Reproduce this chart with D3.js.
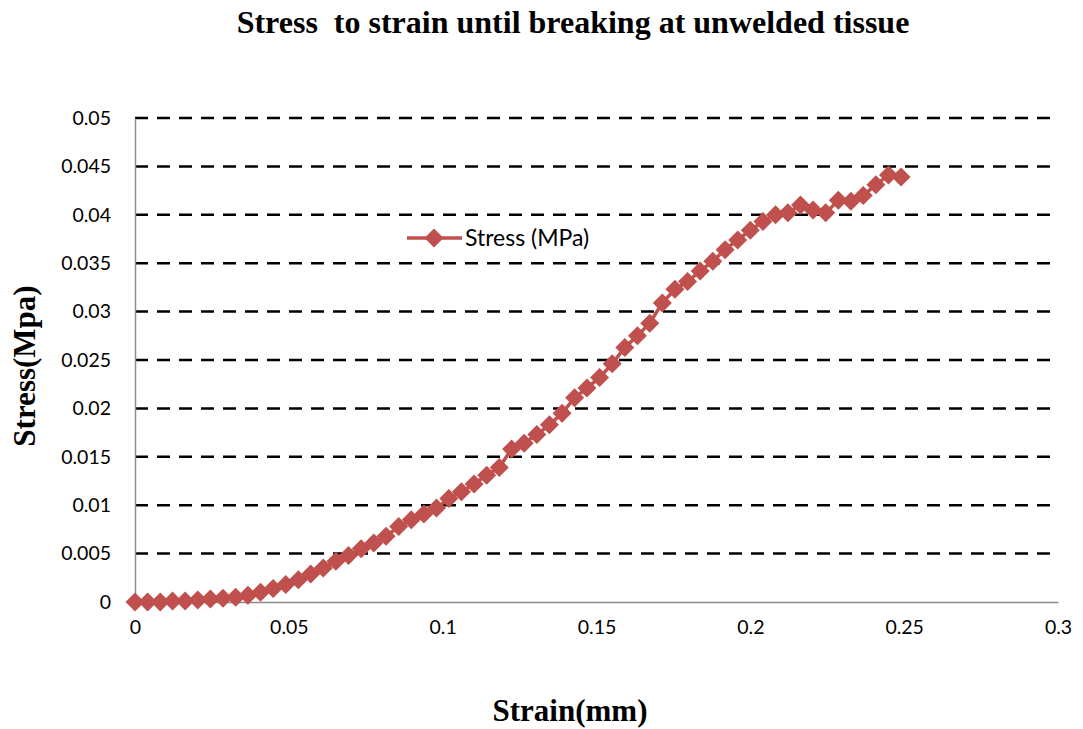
<!DOCTYPE html>
<html>
<head>
<meta charset="utf-8">
<script src="https://cdn.jsdelivr.net/npm/d3@7"></script>
<style>
  body { margin: 0; background: #fff; }
  svg text { fill: #000; }
</style>
</head>
<body>
<svg id="chart" width="1083" height="729"></svg>
<script>
// strain (mm) readings
const strain = [0, 0.0041, 0.0082, 0.0122, 0.0163, 0.0204, 0.0245, 0.0286, 0.0327, 0.0367,
  0.0408, 0.0449, 0.049, 0.0531, 0.0571, 0.0612, 0.0653, 0.0694, 0.0735, 0.0776,
  0.0816, 0.0857, 0.0898, 0.0939, 0.098, 0.102, 0.1061, 0.1102, 0.1143, 0.1184,
  0.1224, 0.1265, 0.1306, 0.1347, 0.1388, 0.1429, 0.1469, 0.151, 0.1551, 0.1592,
  0.1633, 0.1673, 0.1714, 0.1755, 0.1796, 0.1837, 0.1878, 0.1918, 0.1959, 0.2,
  0.2041, 0.2082, 0.2122, 0.2163, 0.2204, 0.2245, 0.2286, 0.2327, 0.2367, 0.2408,
  0.2449, 0.249];
// stress (MPa)
const stress = [0, 0, 0, 0.0001, 0.0001, 0.0002, 0.0003, 0.0004, 0.0005, 0.0007,
  0.001, 0.0014, 0.0018, 0.0023, 0.0029, 0.0035, 0.0042, 0.0048, 0.0055, 0.0061,
  0.0068, 0.0078, 0.0085, 0.0091, 0.0097, 0.0107, 0.0114, 0.0122, 0.0131, 0.0139,
  0.0158, 0.0164, 0.0173, 0.0183, 0.0195, 0.0211, 0.0221, 0.0232, 0.0246, 0.0263,
  0.0275, 0.0288, 0.0309, 0.0323, 0.0331, 0.0342, 0.0352, 0.0364, 0.0374, 0.0384,
  0.0393, 0.04, 0.0402, 0.041, 0.0405, 0.0402, 0.0415, 0.0414, 0.042, 0.0431,
  0.0441, 0.0439];

const xTicks = [0, 0.05, 0.1, 0.15, 0.2, 0.25, 0.3];
const yTicks = [0, 0.005, 0.01, 0.015, 0.02, 0.025, 0.03, 0.035, 0.04, 0.045, 0.05];
const seriesName = "Stress (MPa)";
const color = "#C0504D";

const svg = d3.select("#chart");
const plot = { left: 135, right: 1058, top: 118, bottom: 602 };

const x = d3.scaleLinear().domain([0, 0.3]).range([plot.left, plot.right]);
const y = d3.scaleLinear().domain([0, 0.05]).range([plot.bottom, plot.top]);

// dashed gridlines
svg.append("g")
  .selectAll("line")
  .data(yTicks.filter(d => d > 0))
  .enter()
  .append("line")
  .attr("x1", plot.left)
  .attr("x2", plot.right)
  .attr("y1", d => y(d))
  .attr("y2", d => y(d))
  .attr("stroke", "#000")
  .attr("stroke-width", 2.5)
  .attr("stroke-dasharray", "13,9");

// axes
const yAxis = svg.append("g")
  .attr("transform", `translate(${plot.left},0)`)
  .call(d3.axisLeft(y).tickValues(yTicks).tickSize(0).tickPadding(24).tickFormat(d => String(+d.toFixed(3))));
const xAxis = svg.append("g")
  .attr("transform", `translate(0,${plot.bottom})`)
  .call(d3.axisBottom(x).tickValues(xTicks).tickSize(0).tickPadding(18).tickFormat(d => String(+d.toFixed(2))));

[yAxis, xAxis].forEach(a => {
  a.select(".domain").attr("stroke", "#8c8c8c").attr("stroke-width", 1.5);
  a.selectAll("text")
    .style("font-family", "Lato, 'Open Sans', sans-serif")
    .style("font-size", "19.5px")
    .attr("fill", "#000");
});

const pts = strain.map((s, i) => ({ s, v: stress[i] }));

// series line
svg.append("path")
  .datum(pts)
  .attr("fill", "none")
  .attr("stroke", color)
  .attr("stroke-width", 3.5)
  .attr("d", d3.line().x(d => x(d.s)).y(d => y(d.v)));

// diamond markers
const diamond = d3.symbol().type(d3.symbolDiamond2).size(230);
svg.append("g")
  .selectAll("path")
  .data(pts)
  .enter()
  .append("path")
  .attr("d", diamond)
  .attr("transform", d => `translate(${x(d.s)},${y(d.v)})`)
  .attr("fill", color);

// legend
const lg = svg.append("g").attr("transform", "translate(407,238)");
lg.append("line").attr("x1", 0).attr("x2", 55).attr("stroke", color).attr("stroke-width", 3.5);
lg.append("path").attr("d", diamond).attr("transform", "translate(27,0)").attr("fill", color);
lg.append("text")
  .attr("x", 58)
  .attr("y", 8)
  .style("font-family", "Lato, 'Open Sans', sans-serif")
  .style("font-size", "23px")
  .text(seriesName);

// titles
const serif = "'Liberation Serif', 'Times New Roman', serif";
svg.append("text")
  .attr("x", 573)
  .attr("y", 33)
  .attr("text-anchor", "middle")
  .style("font-family", serif)
  .style("font-weight", "bold")
  .style("font-size", "32px")
  .style("white-space", "pre")
  .text("Stress  to strain until breaking at unwelded tissue");

svg.append("text")
  .attr("x", 570)
  .attr("y", 721)
  .attr("text-anchor", "middle")
  .style("font-family", serif)
  .style("font-weight", "bold")
  .style("font-size", "31px")
  .text("Strain(mm)");

svg.append("text")
  .attr("transform", "translate(35,366) rotate(-90)")
  .attr("text-anchor", "middle")
  .style("font-family", serif)
  .style("font-weight", "bold")
  .style("font-size", "31px")
  .text("Stress(Mpa)");
</script>
</body>
</html>
